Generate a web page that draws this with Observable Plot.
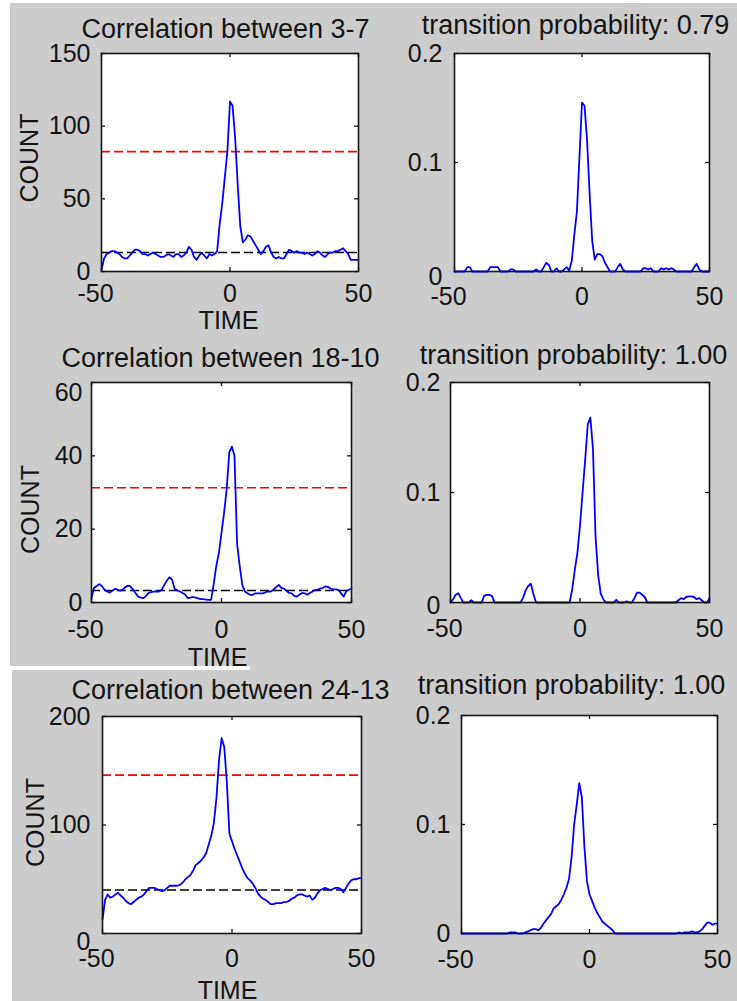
<!DOCTYPE html>
<html><head><meta charset="utf-8">
<script src="https://cdn.jsdelivr.net/npm/d3@7"></script>
<script src="https://cdn.jsdelivr.net/npm/@observablehq/plot@0.6"></script>
<style>
html,body{margin:0;padding:0;background:#fff;}
body{position:relative;width:737px;height:1001px;overflow:hidden;font-family:"Liberation Sans",Arial,sans-serif;}
.bg{position:absolute;background:#cccccc;}
</style></head><body>
<div class="bg" style="left:10px;top:3px;width:727px;height:663px"></div>
<div class="bg" style="left:250px;top:666px;width:487px;height:4px"></div>
<div class="bg" style="left:12px;top:670px;width:725px;height:331px"></div>
<script>
// ---------- data ----------
const lags = [
 -50,-49,-48,-47,-46,-45,-44,-43,-42,-41,
 -40,-39,-38,-37,-36,-35,-34,-33,-32,-31,
 -30,-29,-28,-27,-26,-25,-24,-23,-22,-21,
 -20,-19,-18,-17,-16,-15,-14,-13,-12,-11,
 -10,-9,-8,-7,-6,-5,-4,-3,-2,-1,
 0,1,2,3,4,5,6,7,8,9,
 10,11,12,13,14,15,16,17,18,19,
 20,21,22,23,24,25,26,27,28,29,
 30,31,32,33,34,35,36,37,38,39,
 40,41,42,43,44,45,46,47,48,49,
 50];

const titles = [
 "Correlation between 3-7", "transition probability: 0.79",
 "Correlation between 18-10", "transition probability: 1.00",
 "Correlation between 24-13", "transition probability: 1.00"];

const xTickValues = [-50, 0, 50];
const xLabel = "TIME";
const yLabel = "COUNT";

const count_3_7 = [
 1, 9, 12, 13, 14, 14, 13, 12, 10, 9,
 9, 11, 13, 15, 15, 14, 12, 12, 11, 12,
 13, 12, 11, 10, 10, 11, 12, 11, 10, 12,
 12, 10, 11, 13, 17, 15, 10, 8, 11, 13,
 11, 9, 12, 11, 12, 14, 33, 47, 65, 83,
 117, 114, 92, 60, 31, 20, 22, 25, 24, 21,
 18, 15, 12, 14, 17, 18, 13, 10, 9, 10,
 9, 9, 12, 15, 14, 13, 14, 13, 13, 12,
 13, 12, 11, 12, 14, 13, 11, 10, 12, 13,
 13, 14, 14, 15, 16, 14, 12, 8, 8, 8,
 8];
const prob_3_7 = [
 0, 0, 0, 0, 0, 0.004, 0.004, 0, 0, 0,
 0, 0, 0, 0, 0.004, 0.004, 0.004, 0.004, 0, 0,
 0, 0, 0.002, 0.002, 0, 0, 0, 0, 0, 0,
 0, 0, 0.002, 0, 0, 0.004, 0.008, 0.006, 0, 0,
 0.003, 0, 0, 0.002, 0.004, 0.001, 0.01, 0.034, 0.055, 0.105,
 0.155, 0.152, 0.12, 0.071, 0.028, 0.011, 0.016, 0.016, 0.014, 0.008,
 0.004, 0, 0, 0, 0.004, 0.007, 0.002, 0, 0, 0,
 0, 0, 0, 0, 0.003, 0.003, 0.002, 0.003, 0, 0,
 0, 0.003, 0.002, 0.003, 0.002, 0.003, 0.002, 0, 0, 0,
 0, 0, 0, 0, 0.004, 0.007, 0.002, 0, 0, 0,
 0];
const count_18_10 = [
 1.2, 4, 4.5, 5, 4.5, 3.5, 3, 2.7, 3.2, 3.7,
 3.5, 3.2, 3.5, 4.2, 4.6, 4.4, 3.5, 2.5, 1.6, 1.3,
 1.2, 1.8, 2.6, 2.8, 3, 3, 3, 3.5, 4.8, 6,
 6.9, 6.2, 3.7, 3.3, 3, 2.6, 2.2, 1.2, 1.3, 1.5,
 1.3, 1.1, 0.9, 0.9, 0.8, 0.7, 0.7, 5, 10, 13.5,
 19, 24.5, 31, 41, 42.5, 40, 16, 10, 4.8, 3,
 2.5, 2.1, 2.1, 2.5, 2.5, 2.5, 2.5, 2.8, 3, 3,
 3.5, 4.2, 4.8, 4, 3.8, 3.2, 2.6, 2.5, 1.8, 1.6,
 2.2, 2.6, 2.5, 2.1, 2.6, 3, 3.4, 3.5, 3.8, 4,
 4.4, 4.2, 3.8, 3.6, 3.6, 3.4, 2.5, 1.6, 3.1, 3.5,
 3.75];
const prob_18_10 = [
 0, 0.003, 0.007, 0.0085, 0.004, 0, 0, 0, 0.002, 0,
 0, 0, 0, 0.006, 0.007, 0.007, 0.006, 0, 0, 0,
 0, 0, 0, 0, 0, 0, 0, 0, 0.004, 0.011,
 0.015, 0.017, 0.008, 0, 0, 0, 0, 0, 0, 0,
 0, 0, 0, 0, 0, 0, 0, 0.012, 0.03, 0.045,
 0.07, 0.1, 0.13, 0.162, 0.168, 0.14, 0.06, 0.025, 0.008, 0.003,
 0, 0, 0, 0, 0.0025, 0, 0, 0, 0.001, 0,
 0, 0.004, 0.009, 0.009, 0.007, 0.005, 0, 0, 0, 0,
 0, 0, 0, 0, 0, 0, 0, 0, 0.002, 0.004,
 0.003, 0.005, 0.0055, 0.0055, 0.005, 0.003, 0.004, 0.002, 0, 0,
 0.004];
const count_24_13 = [
 13, 31, 36, 33, 34, 36, 37.5, 35, 33, 30,
 28, 27, 29, 31, 33, 34, 36, 39, 42, 42,
 42, 41, 40, 39, 40, 42, 44, 44, 44, 44,
 45, 47, 50, 52, 54, 58, 63, 65, 67, 70,
 74, 82, 90, 102, 125, 160, 180, 172, 140, 92,
 85, 78, 72, 66, 60, 55, 51, 49, 46, 42,
 37, 34, 32, 31, 29, 27, 27, 28, 28, 28,
 29, 29, 30, 32, 33, 35, 36, 36, 35, 34,
 35, 31, 33, 37, 40, 41, 42, 41, 40, 41,
 42, 42, 41, 38, 42, 46, 49, 50, 50, 51,
 51];
const prob_24_13 = [
 0, 0, 0, 0, 0, 0, 0, 0, 0, 0,
 0, 0, 0, 0, 0, 0, 0, 0, 0, 0.001,
 0.001, 0.001, 0, 0, 0, 0.001, 0.002, 0.003, 0.004, 0.004,
 0.003, 0.005, 0.009, 0.012, 0.015, 0.018, 0.023, 0.025, 0.027, 0.031,
 0.036, 0.042, 0.05, 0.07, 0.1, 0.118, 0.138, 0.125, 0.08, 0.048,
 0.036, 0.03, 0.024, 0.019, 0.015, 0.011, 0.009, 0.007, 0.005, 0.003,
 0, 0, 0, 0, 0, 0, 0, 0, 0, 0,
 0, 0, 0, 0, 0, 0, 0, 0, 0, 0,
 0, 0, 0, 0, 0, 0.001, 0, 0.001, 0.001, 0.001,
 0.002, 0.001, 0.001, 0.002, 0.004, 0.007, 0.01, 0.01, 0.008, 0.009,
 0.009];

const upperThresholds = [82.5, 31.3, 146];
const lowerThresholds = [13, 3.3, 40];

// ---------- drawing ----------
const INK = "#141414";
const FONT = "'Liberation Sans', Arial, Helvetica, sans-serif";
const FS = 25, TFS = 27;
const fmt = d => String(d);

function panel(p) {
  const [x0, y0, x1, y1] = p.frame;
  const w = x1 - x0, h = y1 - y0;
  const mL = 110, mR = 60, mT = 60, mB = 80;
  const rows = lags.map((t, i) => ({t, v: p.values[i]}));
  const marks = [Plot.frame({fill: "white", stroke: "none"})];
  if (p.upper != null) marks.push(Plot.ruleY([p.upper], {stroke: "#ff0000", strokeWidth: 1.7, strokeDasharray: "9,4"}));
  if (p.lower != null) marks.push(Plot.ruleY([p.lower], {stroke: "#000000", strokeWidth: 1.5, strokeDasharray: "9,4"}));
  marks.push(Plot.line(rows, {x: "t", y: "v", stroke: "#0000ff", strokeWidth: 1.8}));
  marks.push(
    Plot.tickX(xTickValues, {x: d => d, insetTop: h - 4, stroke: INK, strokeWidth: 1.3}),
    Plot.tickX(xTickValues, {x: d => d, insetBottom: h - 4, stroke: INK, strokeWidth: 1.3}),
    Plot.tickY(p.yTicks, {y: d => d, insetRight: w - 4, stroke: INK, strokeWidth: 1.3}),
    Plot.tickY(p.yTicks, {y: d => d, insetLeft: w - 4, stroke: INK, strokeWidth: 1.3}),
    Plot.frame({stroke: INK, strokeWidth: 1.6})
  );
  const common = {tickSize: 0, tickFormat: fmt, fontSize: FS, color: INK, label: null};
  marks.push(Plot.axisX([0, 50], {...common, anchor: "bottom", tickPadding: p.xPad}));
  marks.push(Plot.axisX([-50], {...common, anchor: "bottom", tickPadding: p.xPad, dx: -6}));
  const shifted = p.yShift ? p.yShift.value : null;
  marks.push(Plot.axisY(p.yTicks.filter(d => d !== shifted), {...common, anchor: "left", tickPadding: p.yGap}));
  if (p.yShift) marks.push(Plot.axisY([shifted], {...common, anchor: "left", tickPadding: p.yGap, dy: p.yShift.dy}));
  marks.push(Plot.text([p.title], {text: d => d, frameAnchor: "top", textAnchor: "middle", lineAnchor: "bottom",
    dx: p.titleX - (x0 + x1) / 2, dy: p.titleBase - y0, fontSize: TFS, fill: INK}));
  if (p.time) marks.push(Plot.text([xLabel], {text: d => d, frameAnchor: "bottom", textAnchor: "middle", lineAnchor: "bottom",
    dx: p.time.x - (x0 + x1) / 2, dy: p.time.base - y1, fontSize: FS, fill: INK}));
  if (p.count) marks.push(Plot.text([yLabel], {text: d => d, frameAnchor: "left", textAnchor: "middle", lineAnchor: "bottom",
    rotate: -90, dx: p.count.x - x0, dy: p.count.y - (y0 + y1) / 2, fontSize: FS, fill: INK}));
  const svg = Plot.plot({
    width: w + mL + mR, height: h + mT + mB,
    marginLeft: mL, marginRight: mR, marginTop: mT, marginBottom: mB,
    x: {domain: [-50, 50], label: null},
    y: {domain: p.yDomain, label: null},
    style: {background: "transparent", overflow: "visible", fontFamily: FONT, maxWidth: "none"},
    marks
  });
  svg.style.position = "absolute";
  svg.style.left = (x0 - mL) + "px";
  svg.style.top = (y0 - mT) + "px";
  document.body.appendChild(svg);
}

panel({frame: [101, 53, 358, 271], yDomain: [0, 150], yTicks: [0, 50, 100, 150], values: count_3_7, title: titles[0],
  titleBase: 37, titleX: 225, xPad: 13, yGap: 11, upper: upperThresholds[0], lower: lowerThresholds[0],
  time: {base: 328, x: 228}, count: {x: 37, y: 157.5}});
panel({frame: [454, 53, 709, 271], yDomain: [0, 0.2], yTicks: [0, 0.1, 0.2], yShift: {value: 0, dy: 5}, values: prob_3_7, title: titles[1],
  titleBase: 33.5, titleX: 575, xPad: 16, yGap: 12});
panel({frame: [91, 382, 351, 602], yDomain: [0, 60], yTicks: [0, 20, 40, 60], yShift: {value: 60, dy: 10}, values: count_18_10, title: titles[2],
  titleBase: 366.5, titleX: 220, xPad: 18, yGap: 9, upper: upperThresholds[1], lower: lowerThresholds[1],
  time: {base: 665, x: 217}, count: {x: 38, y: 509}});
panel({frame: [450, 382, 709, 602], yDomain: [0, 0.2], yTicks: [0, 0.1, 0.2], yShift: {value: 0, dy: 3}, values: prob_18_10, title: titles[3],
  titleBase: 363, titleX: 573, xPad: 17, yGap: 10});
panel({frame: [102, 716, 361, 933], yDomain: [0, 200], yTicks: [0, 100, 200], yShift: {value: 0, dy: 8}, values: count_24_13, title: titles[4],
  titleBase: 698, titleX: 230, xPad: 16, yGap: 12, upper: upperThresholds[2], lower: lowerThresholds[2],
  time: {base: 998, x: 227}, count: {x: 43, y: 822}});
panel({frame: [461, 715, 717, 933], yDomain: [0, 0.2], yTicks: [0, 0.1, 0.2], values: prob_24_13, title: titles[5],
  titleBase: 693, titleX: 571, xPad: 17, yGap: 11});
</script>
</body></html>
